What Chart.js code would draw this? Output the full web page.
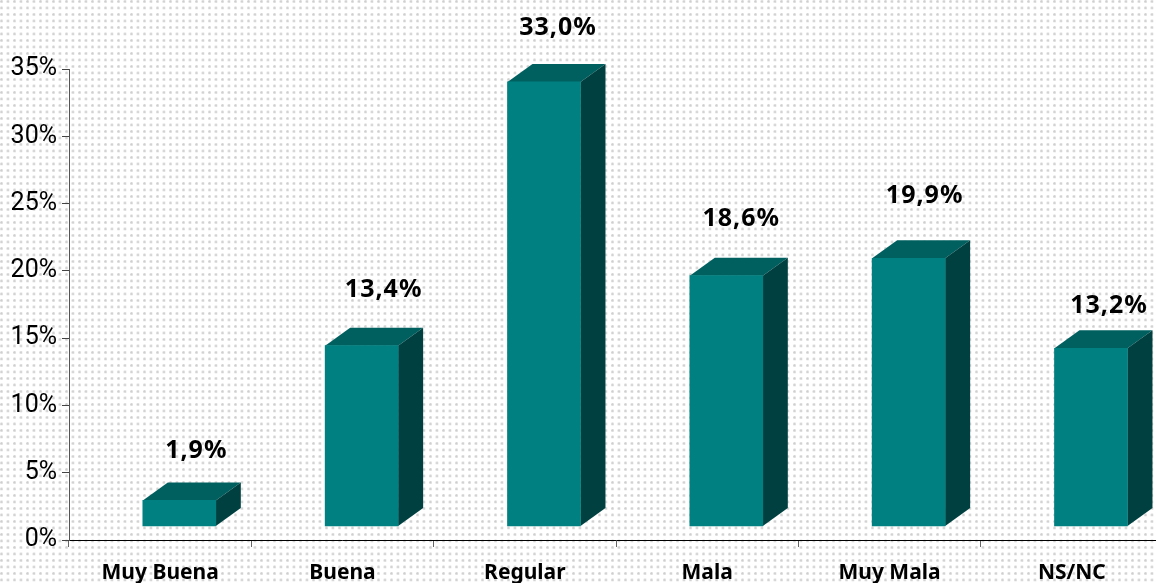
<!DOCTYPE html>
<html><head><meta charset="utf-8">
<script src="https://cdn.jsdelivr.net/npm/chart.js@4"></script>
<style>
html,body{margin:0;padding:0;width:1156px;height:583px;overflow:hidden;background-color:#fff;
background-image:radial-gradient(circle at 1.5px 1.5px,#cdcdcd 0,#d6d6d6 1.1px,rgba(255,255,255,0) 1.7px);
background-size:6.5px 6.5px;}
canvas{display:block;}
</style></head><body>
<canvas id="c" width="1170" height="583" style="width:1170px;height:583px"></canvas>
<script>
const categories = ["Muy Buena","Buena","Regular","Mala","Muy Mala","NS/NC"];
const values = [1.9,13.4,33.0,18.6,19.9,13.2];
const valueLabels = ["1,9%","13,4%","33,0%","18,6%","19,9%","13,2%"];
const yTicks = [0,5,10,15,20,25,30,35];

const depth = {dx:25, dy:18};
const labelNudge = [[17,-50],[22,-56],[14,-54],[15,-57],[16,-62],[18,-42]];
const floorShift = 14/13.46;   // bars stand on the 3D floor, above the axis line
const faceColors = {front:"#008080", top:"#006060", side:"#004040"};
const labelFont = 'bold 25px "Noto Sans"';

const box3d = {
  id:"box3d",
  beforeDatasetsDraw(chart){
    const {ctx} = chart, m = chart.getDatasetMeta(0);
    ctx.save();
    m.data.forEach(b=>{
      const l=b.x-b.width/2, r=b.x+b.width/2, t=b.y, bt=b.base;
      ctx.fillStyle=faceColors.top;
      ctx.beginPath();ctx.moveTo(l,t);ctx.lineTo(l+depth.dx,t-depth.dy);ctx.lineTo(r+depth.dx,t-depth.dy);ctx.lineTo(r,t);ctx.closePath();ctx.fill();
      ctx.fillStyle=faceColors.side;
      ctx.beginPath();ctx.moveTo(r,t);ctx.lineTo(r+depth.dx,t-depth.dy);ctx.lineTo(r+depth.dx,bt-depth.dy);ctx.lineTo(r,bt);ctx.closePath();ctx.fill();
    });
    ctx.restore();
  },
  afterDatasetsDraw(chart){
    const {ctx} = chart, m = chart.getDatasetMeta(0);
    ctx.save();
    ctx.font=labelFont;ctx.fillStyle="#000";ctx.textAlign="center";ctx.textBaseline="middle";
    ctx.letterSpacing="1px";
    m.data.forEach((b,i)=>{
      ctx.fillText(valueLabels[i], b.x+labelNudge[i][0], b.y+labelNudge[i][1]);
    });
    ctx.restore();
  }
};

new Chart(document.getElementById("c"),{
  type:"bar",
  data:{
    labels:categories,
    datasets:[{
      data:values.map((v,i)=>({x:i,y:v})),
      xAxisID:"xBars",yAxisID:"yBars",
      backgroundColor:faceColors.front,
      barThickness:73,
      clip:false
    }]
  },
  plugins:[box3d],
  options:{
    responsive:false,animation:false,
    layout:{padding:{top:69,right:7,left:0,bottom:0}},
    plugins:{legend:{display:false},tooltip:{enabled:false}},
    scales:{
      x:{type:"category",labels:categories,offset:true,
        afterFit(s){s.height=43;},
        grid:{drawOnChartArea:false,offset:true,tickLength:7,tickColor:"#666",tickWidth:1},
        border:{color:"#000",width:1},
        ticks:{font:{family:"Noto Sans",weight:"bold",size:21},color:"#000",padding:13,maxRotation:0,autoSkip:false}
      },
      y:{type:"linear",min:0,max:35,
        afterFit(s){s.width=69;},
        afterBuildTicks(s){s.ticks=yTicks.map(v=>({value:v}));},
        grid:{drawOnChartArea:false,tickLength:7,tickColor:"#444",tickWidth:1},
        border:{color:"#555",width:1},
        ticks:{font:{family:"Roboto",size:25},color:"#000",padding:5,callback:v=>v+"%"}
      },
      xBars:{type:"linear",display:false,offset:false,min:-0.605,max:5.395},
      yBars:{type:"linear",display:false,min:-floorShift,max:35-floorShift}
    }
  }
});
</script>
</body></html>
